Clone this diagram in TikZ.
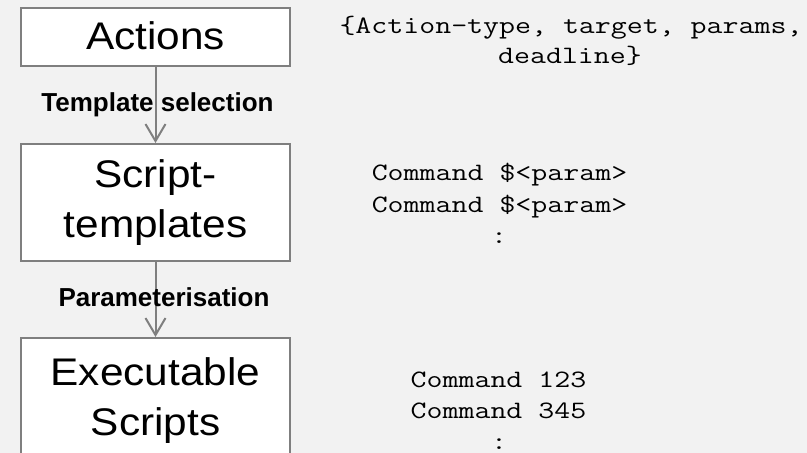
\documentclass[tikz,border=0pt]{standalone}
\usepackage{fontspec}
\setmainfont{Liberation Sans}
\newfontfamily\boxfont[FakeStretch=1.1]{Liberation Sans}
\usetikzlibrary{arrows.meta}
\definecolor{canvas}{HTML}{F2F2F2}
\definecolor{edge}{HTML}{7F7F7F}
% widened typewriter text for the code examples
\newcommand\widecode[1]{\scalebox{1.24}[1]{#1}}
\begin{document}
\begin{tikzpicture}[x=1pt,y=-1pt,
  stage/.style={draw=edge, line width=2pt, fill=white, minimum width=269pt,
    inner sep=0pt, align=center, font=\boxfont\fontsize{38.5}{50}\selectfont},
  flow/.style={draw=edge, line width=2pt, -{Straight Barb[length=17pt,width=20pt]}},
  steplabel/.style={font=\bfseries\fontsize{26}{30}\selectfont, inner sep=0pt, anchor=base},
  code/.style={font=\ttfamily\fontsize{25}{31}\selectfont, inner sep=0pt, anchor=base}]
  % canvas
  \useasboundingbox (0,0) rectangle (807,453);
  \clip (0,0) rectangle (807,453);
  \fill[canvas] (0,0) rectangle (807,453);

  % pipeline stages
  \node[stage, minimum height=58pt, text depth=3pt] (actions) at (155.5,37) {Actions};
  \node[stage, minimum height=117pt] (templates) at (155.5,202.5) {Script-\\templates};
  \node[stage, minimum height=125pt] (scripts) at (155.5,400.5) {Executable\\Scripts};

  % transitions
  \draw[flow] (actions) -- (templates);
  \draw[flow] (templates) -- (scripts);
  \node[steplabel] (selection) at (157.5,111.7) {Template selection};
  \node[steplabel] (parameterisation) at (164,306) {Parameterisation};

  % examples of each stage
  \node[code] (tuple1) at (571,33.3) {\widecode{\{Action-type, target, params,}};
  \node[code] (tuple2) at (570,63) {\widecode{deadline\}}};
  \node[code] (tmpl1) at (499.5,180) {\widecode{Command \$<param>}};
  \node[code] (tmpl2) at (499.5,212) {\widecode{Command \$<param>}};
  \node[code] (tmpl3) at (499,243) {\widecode{:}};
  \node[code] (exec1) at (498.5,387) {\widecode{Command 123}};
  \node[code] (exec2) at (498.5,418) {\widecode{Command 345}};
  \node[code] (exec3) at (499,449) {\widecode{:}};
\end{tikzpicture}
\end{document}
